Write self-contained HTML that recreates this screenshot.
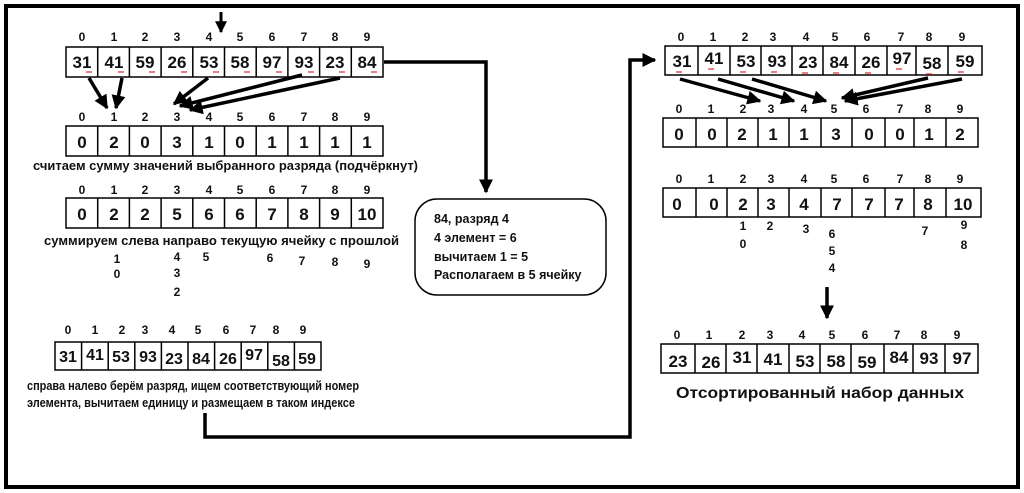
<!DOCTYPE html>
<html><head><meta charset="utf-8"><style>
html,body{margin:0;padding:0;background:#fff;}
svg{display:block;}
text{font-family:"Liberation Sans",sans-serif;font-weight:bold;fill:#111;}
.n{font-size:17px;text-anchor:middle;}
.i{font-size:12px;text-anchor:middle;}
.c{font-size:12.5px;}
.s{font-size:12px;text-anchor:middle;}
</style></head><body>
<svg width="1024" height="493" viewBox="0 0 1024 493" xmlns="http://www.w3.org/2000/svg">
<defs>
<marker id="ah" viewBox="0 0 10 10" refX="9" refY="5" markerWidth="4" markerHeight="4" orient="auto" markerUnits="strokeWidth"><path d="M0,0 L10,5 L0,10 z" fill="#000"/></marker>
</defs>
<rect x="6" y="6" width="1012" height="481" fill="none" stroke="#000" stroke-width="4"/>

<!-- top arrow -->
<line x1="221" y1="12" x2="221" y2="32" stroke="#000" stroke-width="3" marker-end="url(#ah)"/>

<!-- Left array 1 -->
<g>
<text class="i" x="82" y="41">0</text><text class="i" x="114" y="41">1</text><text class="i" x="145" y="41">2</text><text class="i" x="177" y="41">3</text><text class="i" x="209" y="41">4</text><text class="i" x="240" y="41">5</text><text class="i" x="272" y="41">6</text><text class="i" x="304" y="41">7</text><text class="i" x="335" y="41">8</text><text class="i" x="367" y="41">9</text>
<rect x="66" y="47" width="317" height="30" fill="none" stroke="#000" stroke-width="1.5"/>
<path d="M97.7 47v30M129.4 47v30M161.1 47v30M192.8 47v30M224.5 47v30M256.2 47v30M287.9 47v30M319.6 47v30M351.3 47v30" stroke="#000" stroke-width="1.5"/>
<text class="n" x="82" y="68">31</text><text class="n" x="114" y="68">41</text><text class="n" x="145" y="68">59</text><text class="n" x="177" y="68">26</text><text class="n" x="209" y="68">53</text><text class="n" x="240" y="68">58</text><text class="n" x="272" y="68">97</text><text class="n" x="304" y="68">93</text><text class="n" x="335" y="68">23</text><text class="n" x="367" y="68">84</text>
<path d="M86 72h6M118 72h6M149 72h6M181 72h6M213 72h6M244 72h6M276 72h6M308 72h6M339 72h6M371 72h6" stroke="#d33" stroke-width="1.2"/>
</g>

<!-- left arrows -->
<g stroke="#000" stroke-width="3.5" marker-end="url(#ah)">
<line x1="89" y1="78" x2="107" y2="108"/>
<line x1="122" y1="78" x2="116" y2="108"/>
<line x1="208" y1="78" x2="174" y2="104"/>
<line x1="302" y1="75" x2="180" y2="106"/>
<line x1="340" y1="78" x2="190" y2="110"/>
</g>

<!-- Left array 2 -->
<g>
<text class="i" x="82" y="121">0</text><text class="i" x="114" y="121">1</text><text class="i" x="145" y="121">2</text><text class="i" x="177" y="121">3</text><text class="i" x="209" y="121">4</text><text class="i" x="240" y="121">5</text><text class="i" x="272" y="121">6</text><text class="i" x="304" y="121">7</text><text class="i" x="335" y="121">8</text><text class="i" x="367" y="121">9</text>
<rect x="66" y="126" width="317" height="30" fill="none" stroke="#000" stroke-width="1.5"/>
<path d="M97.7 126v30M129.4 126v30M161.1 126v30M192.8 126v30M224.5 126v30M256.2 126v30M287.9 126v30M319.6 126v30M351.3 126v30" stroke="#000" stroke-width="1.5"/>
<text class="n" x="82" y="148">0</text><text class="n" x="114" y="148">2</text><text class="n" x="145" y="148">0</text><text class="n" x="177" y="148">3</text><text class="n" x="209" y="148">1</text><text class="n" x="240" y="148">0</text><text class="n" x="272" y="148">1</text><text class="n" x="304" y="148">1</text><text class="n" x="335" y="148">1</text><text class="n" x="367" y="148">1</text>
</g>
<text class="c" x="33" y="170" textLength="385" lengthAdjust="spacingAndGlyphs">считаем сумму значений выбранного разряда (подчёркнут)</text>

<!-- Left array 3 -->
<g>
<text class="i" x="82" y="194">0</text><text class="i" x="114" y="194">1</text><text class="i" x="145" y="194">2</text><text class="i" x="177" y="194">3</text><text class="i" x="209" y="194">4</text><text class="i" x="240" y="194">5</text><text class="i" x="272" y="194">6</text><text class="i" x="304" y="194">7</text><text class="i" x="335" y="194">8</text><text class="i" x="367" y="194">9</text>
<rect x="66" y="198" width="317" height="30" fill="none" stroke="#000" stroke-width="1.5"/>
<path d="M97.7 198v30M129.4 198v30M161.1 198v30M192.8 198v30M224.5 198v30M256.2 198v30M287.9 198v30M319.6 198v30M351.3 198v30" stroke="#000" stroke-width="1.5"/>
<text class="n" x="82" y="220">0</text><text class="n" x="114" y="220">2</text><text class="n" x="145" y="220">2</text><text class="n" x="177" y="220">5</text><text class="n" x="209" y="220">6</text><text class="n" x="240" y="220">6</text><text class="n" x="272" y="220">7</text><text class="n" x="304" y="220">8</text><text class="n" x="335" y="220">9</text><text class="n" x="367" y="220">10</text>
</g>
<text class="c" x="44" y="245" textLength="355" lengthAdjust="spacingAndGlyphs">суммируем слева направо  текущую ячейку с прошлой</text>
<text class="s" x="117" y="263">1</text><text class="s" x="117" y="278">0</text>
<text class="s" x="177" y="261">4</text><text class="s" x="177" y="277">3</text><text class="s" x="177" y="296">2</text>
<text class="s" x="206" y="261">5</text><text class="s" x="270" y="262">6</text><text class="s" x="302" y="265">7</text><text class="s" x="335" y="266">8</text><text class="s" x="367" y="268">9</text>

<!-- Left array 4 -->
<g>
<text class="i" x="68" y="334">0</text><text class="i" x="95" y="334">1</text><text class="i" x="122" y="334">2</text><text class="i" x="145" y="334">3</text><text class="i" x="172" y="334">4</text><text class="i" x="198" y="334">5</text><text class="i" x="226" y="334">6</text><text class="i" x="253" y="334">7</text><text class="i" x="276" y="334">8</text><text class="i" x="303" y="334">9</text>
<rect x="55" y="342" width="266" height="28" fill="none" stroke="#000" stroke-width="1.5"/>
<path d="M81.6 342v28M108.2 342v28M134.8 342v28M161.4 342v28M188 342v28M214.6 342v28M241.2 342v28M267.8 342v28M294.4 342v28" stroke="#000" stroke-width="1.5"/>
<g style="font-size:16px">
<text class="n" x="68" y="362" style="font-size:16px">31</text><text class="n" x="95" y="360" style="font-size:16px">41</text><text class="n" x="121" y="362" style="font-size:16px">53</text><text class="n" x="148" y="362" style="font-size:16px">93</text><text class="n" x="174" y="364" style="font-size:16px">23</text><text class="n" x="201" y="364" style="font-size:16px">84</text><text class="n" x="228" y="364" style="font-size:16px">26</text><text class="n" x="254" y="360" style="font-size:16px">97</text><text class="n" x="281" y="366" style="font-size:16px">58</text><text class="n" x="307" y="364" style="font-size:16px">59</text>
</g>
</g>
<text class="c" x="27" y="390" textLength="332" lengthAdjust="spacingAndGlyphs">справа налево берём разряд, ищем соответствующий номер</text>
<text class="c" x="27" y="407" textLength="328" lengthAdjust="spacingAndGlyphs">элемента, вычитаем единицу и размещаем в таком индексе</text>

<!-- connectors -->
<polyline points="384,62 486,62 486,192" fill="none" stroke="#000" stroke-width="3.5" marker-end="url(#ah)"/>
<polyline points="205,413 205,437 630,437 630,60 655,60" fill="none" stroke="#000" stroke-width="3.5" marker-end="url(#ah)"/>

<!-- box -->
<rect x="415" y="199" width="191" height="96" rx="22" ry="22" fill="#fff" stroke="#000" stroke-width="1.5"/>
<text class="c" x="434" y="223">84, разряд 4</text>
<text class="c" x="434" y="242">4 элемент = 6</text>
<text class="c" x="434" y="261">вычитаем 1 = 5</text>
<text class="c" x="434" y="279">Располагаем в 5 ячейку</text>

<!-- Right array 1 -->
<g>
<text class="i" x="681" y="41">0</text><text class="i" x="713" y="41">1</text><text class="i" x="745" y="41">2</text><text class="i" x="773" y="41">3</text><text class="i" x="806" y="41">4</text><text class="i" x="835" y="41">5</text><text class="i" x="867" y="41">6</text><text class="i" x="901" y="41">7</text><text class="i" x="929" y="41">8</text><text class="i" x="962" y="41">9</text>
<rect x="665" y="46" width="317" height="29" fill="none" stroke="#000" stroke-width="1.5"/>
<path d="M698 46v29M730 46v29M761 46v29M792 46v29M823 46v29M855 46v29M887 46v29M916 46v29M948 46v29" stroke="#000" stroke-width="1.5"/>
<text class="n" x="682" y="67">31</text><text class="n" x="714" y="64">41</text><text class="n" x="746" y="67">53</text><text class="n" x="777" y="67">93</text><text class="n" x="808" y="68">23</text><text class="n" x="839" y="68">84</text><text class="n" x="871" y="68">26</text><text class="n" x="902" y="64">97</text><text class="n" x="932" y="69">58</text><text class="n" x="965" y="67">59</text>
<path d="M676 72h6M708 69h6M740 72h6M771 72h6M802 73h6M833 73h6M865 73h6M896 69h6M926 74h6M958 72h6" stroke="#d33" stroke-width="1.2"/>
</g>
<g stroke="#000" stroke-width="3.5" marker-end="url(#ah)">
<line x1="680" y1="79" x2="760" y2="101"/>
<line x1="718" y1="79" x2="794" y2="101"/>
<line x1="752" y1="79" x2="826" y2="101"/>
<line x1="928" y1="78" x2="842" y2="98"/>
<line x1="962" y1="79" x2="845" y2="101"/>
</g>

<!-- Right array 2 -->
<g>
<text class="i" x="679" y="113">0</text><text class="i" x="711" y="113">1</text><text class="i" x="743" y="113">2</text><text class="i" x="771" y="113">3</text><text class="i" x="804" y="113">4</text><text class="i" x="834" y="113">5</text><text class="i" x="866" y="113">6</text><text class="i" x="900" y="113">7</text><text class="i" x="928" y="113">8</text><text class="i" x="960" y="113">9</text>
<rect x="663" y="118" width="315" height="29" fill="none" stroke="#000" stroke-width="1.5"/>
<path d="M696 118v29M727 118v29M758 118v29M789 118v29M821 118v29M852 118v29M885 118v29M914 118v29M946 118v29" stroke="#000" stroke-width="1.5"/>
<text class="n" x="679" y="140">0</text><text class="n" x="712" y="140">0</text><text class="n" x="742" y="140">2</text><text class="n" x="773" y="140">1</text><text class="n" x="804" y="140">1</text><text class="n" x="836" y="140">3</text><text class="n" x="869" y="140">0</text><text class="n" x="900" y="140">0</text><text class="n" x="929" y="140">1</text><text class="n" x="960" y="140">2</text>
</g>

<!-- Right array 3 -->
<g>
<text class="i" x="679" y="183">0</text><text class="i" x="711" y="183">1</text><text class="i" x="743" y="183">2</text><text class="i" x="771" y="183">3</text><text class="i" x="804" y="183">4</text><text class="i" x="834" y="183">5</text><text class="i" x="866" y="183">6</text><text class="i" x="900" y="183">7</text><text class="i" x="928" y="183">8</text><text class="i" x="960" y="183">9</text>
<rect x="663" y="188" width="318" height="29" fill="none" stroke="#000" stroke-width="1.5"/>
<path d="M696 188v29M727 188v29M758 188v29M789 188v29M821 188v29M852 188v29M885 188v29M914 188v29M946 188v29" stroke="#000" stroke-width="1.5"/>
<text class="n" x="677" y="210">0</text><text class="n" x="714" y="210">0</text><text class="n" x="743" y="210">2</text><text class="n" x="771" y="210">3</text><text class="n" x="804" y="210">4</text><text class="n" x="837" y="210">7</text><text class="n" x="869" y="210">7</text><text class="n" x="899" y="210">7</text><text class="n" x="928" y="210">8</text><text class="n" x="963" y="210">10</text>
</g>
<text class="s" x="743" y="230">1</text><text class="s" x="743" y="248">0</text>
<text class="s" x="770" y="230">2</text><text class="s" x="806" y="233">3</text>
<text class="s" x="832" y="238">6</text><text class="s" x="832" y="255">5</text><text class="s" x="832" y="272">4</text>
<text class="s" x="925" y="235">7</text><text class="s" x="964" y="229">9</text><text class="s" x="964" y="249">8</text>

<line x1="827" y1="287" x2="827" y2="318" stroke="#000" stroke-width="3.5" marker-end="url(#ah)"/>

<!-- Sorted array -->
<g>
<text class="i" x="677" y="339">0</text><text class="i" x="709" y="339">1</text><text class="i" x="742" y="339">2</text><text class="i" x="770" y="339">3</text><text class="i" x="802" y="339">4</text><text class="i" x="832" y="339">5</text><text class="i" x="865" y="339">6</text><text class="i" x="897" y="339">7</text><text class="i" x="924" y="339">8</text><text class="i" x="957" y="339">9</text>
<rect x="661" y="344" width="317" height="29" fill="none" stroke="#000" stroke-width="1.5"/>
<path d="M695 344v29M726 344v29M757 344v29M789 344v29M820 344v29M851 344v29M884 344v29M913 344v29M945 344v29" stroke="#000" stroke-width="1.5"/>
<text class="n" x="678" y="367">23</text><text class="n" x="711" y="368">26</text><text class="n" x="742" y="363">31</text><text class="n" x="773" y="365">41</text><text class="n" x="805" y="367">53</text><text class="n" x="836" y="367">58</text><text class="n" x="867" y="368">59</text><text class="n" x="899" y="363">84</text><text class="n" x="929" y="364">93</text><text class="n" x="962" y="364">97</text>
</g>
<text x="820" y="398" style="font-size:16px;text-anchor:middle" textLength="288" lengthAdjust="spacingAndGlyphs">Отсортированный набор данных</text>
</svg>
</body></html>
